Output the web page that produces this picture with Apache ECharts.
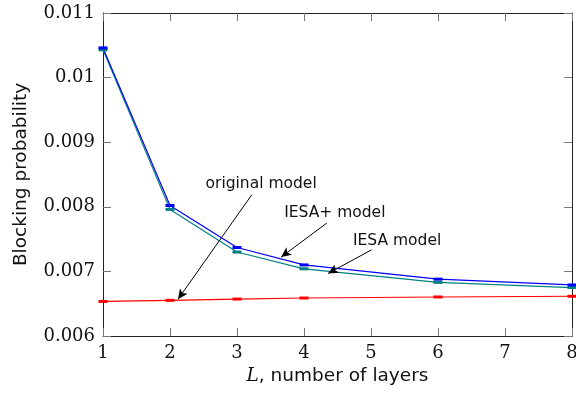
<!DOCTYPE html>
<html>
<head>
<meta charset="utf-8">
<script src="https://cdn.jsdelivr.net/npm/echarts@6/dist/echarts.min.js"></script>
<style>
  html, body { margin: 0; padding: 0; background: #fff; }
  #chart { width: 576px; height: 397px; }
</style>
</head>
<body>
<div id="chart"></div>
<script>
// number of layers L
const layers = [1, 2, 3, 4, 6, 8]
const iesaPlus = [0.01046, 0.00802, 0.00737, 0.00710, 0.00688, 0.00679]
const iesa = [0.01043, 0.00796, 0.00730, 0.00704, 0.00683, 0.00675]
const original = [0.006535, 0.006552, 0.006572, 0.006588, 0.006604, 0.006615]

const xTicks = [1, 2, 3, 4, 5, 6, 7, 8]
const yTicks = [0.006, 0.007, 0.008, 0.009, 0.01, 0.011]

// annotation text and arrows, in data units
const notes = [
  { name: "original model", at: [3.36, 0.008356], from: [3.22, 0.008185], to: [2.12, 0.00657] },
  { name: "IESA+ model", at: [4.46, 0.007907], from: [4.34, 0.007748], to: [3.66, 0.007222] },
  { name: "IESA model", at: [5.39, 0.007474], from: [5.01, 0.007335], to: [4.36, 0.006968] }
]

const pairs = (ys) => layers.map((x, i) => [x, ys[i]])

const serif = "DejaVu Serif"
const sans = "DejaVu Sans"

const tickStyle = { show: true, inside: true, length: 8, lineStyle: { color: "#777", width: 1 } }
const lineStyle = { color: "#222", width: 1 }

function series(name, ys, color, extra) {
  return Object.assign({
    name,
    type: "line",
    data: pairs(ys),
    symbol: "rect",
    symbolSize: [9, 3],
    showSymbol: true,
    lineStyle: { color, width: 1.2 },
    itemStyle: { color },
    emphasis: { disabled: true },
    animation: false
  }, extra || {})
}

const chart = echarts.init(document.getElementById("chart"), null, { renderer: "canvas" })

chart.setOption({
  animation: false,
  grid: { left: 103, right: 4, top: 13, bottom: 61, outerBoundsMode: "none", containLabel: false },
  xAxis: [
    {
      type: "value", min: xTicks[0], max: xTicks[xTicks.length - 1], interval: 1,
      axisLine: { show: true, lineStyle }, axisTick: tickStyle,
      splitLine: { show: false },
      axisLabel: { fontFamily: serif, fontSize: 18, color: "#111", margin: 8 },
      name: "{i|L}, number of layers", nameLocation: "middle", nameGap: 30,
      nameTextStyle: {
        fontFamily: sans, fontSize: 18.5, color: "#111",
        rich: { i: { fontFamily: serif, fontStyle: "italic", fontSize: 18.5, color: "#111" } }
      }
    },
    {
      type: "value", position: "top", min: xTicks[0], max: xTicks[xTicks.length - 1], interval: 1,
      axisLine: { show: true, lineStyle }, axisTick: tickStyle,
      axisLabel: { show: false }, splitLine: { show: false }
    }
  ],
  yAxis: [
    {
      type: "value", min: yTicks[0], max: yTicks[yTicks.length - 1], interval: 0.001,
      axisLine: { show: true, lineStyle }, axisTick: tickStyle,
      splitLine: { show: false },
      axisLabel: {
        fontFamily: serif, fontSize: 18, color: "#111", margin: 8,
        formatter: (v) => String(parseFloat(v.toFixed(3)))
      },
      name: "Blocking probability", nameLocation: "middle", nameGap: 72,
      nameTextStyle: { fontFamily: sans, fontSize: 18.5, color: "#111" }
    },
    {
      type: "value", position: "right", min: yTicks[0], max: yTicks[yTicks.length - 1], interval: 0.001,
      axisLine: { show: true, lineStyle }, axisTick: tickStyle,
      axisLabel: { show: false }, splitLine: { show: false }
    }
  ],
  series: [
    series("IESA model", iesa, "#008080"),
    series("IESA+ model", iesaPlus, "#0000ff"),
    series("original model", original, "#ff0000", {
      markLine: {
        silent: true,
        symbol: ["none", "arrow"],
        symbolSize: [7, 10],
        lineStyle: { color: "#000", width: 1, type: "solid" },
        label: { show: false },
        emphasis: { disabled: true },
        data: notes.map((n) => [{ coord: n.from }, { coord: n.to }])
      },
      markPoint: {
        silent: true,
        symbol: "circle",
        symbolSize: 1,
        itemStyle: { color: "rgba(0,0,0,0)" },
        label: {
          show: true, position: "inside", formatter: (p) => p.name,
          fontFamily: sans, fontSize: 15.5, color: "#111"
        },
        data: notes.map((n) => ({ name: n.name, coord: n.at }))
      }
    })
  ]
})
</script>
</body>
</html>
